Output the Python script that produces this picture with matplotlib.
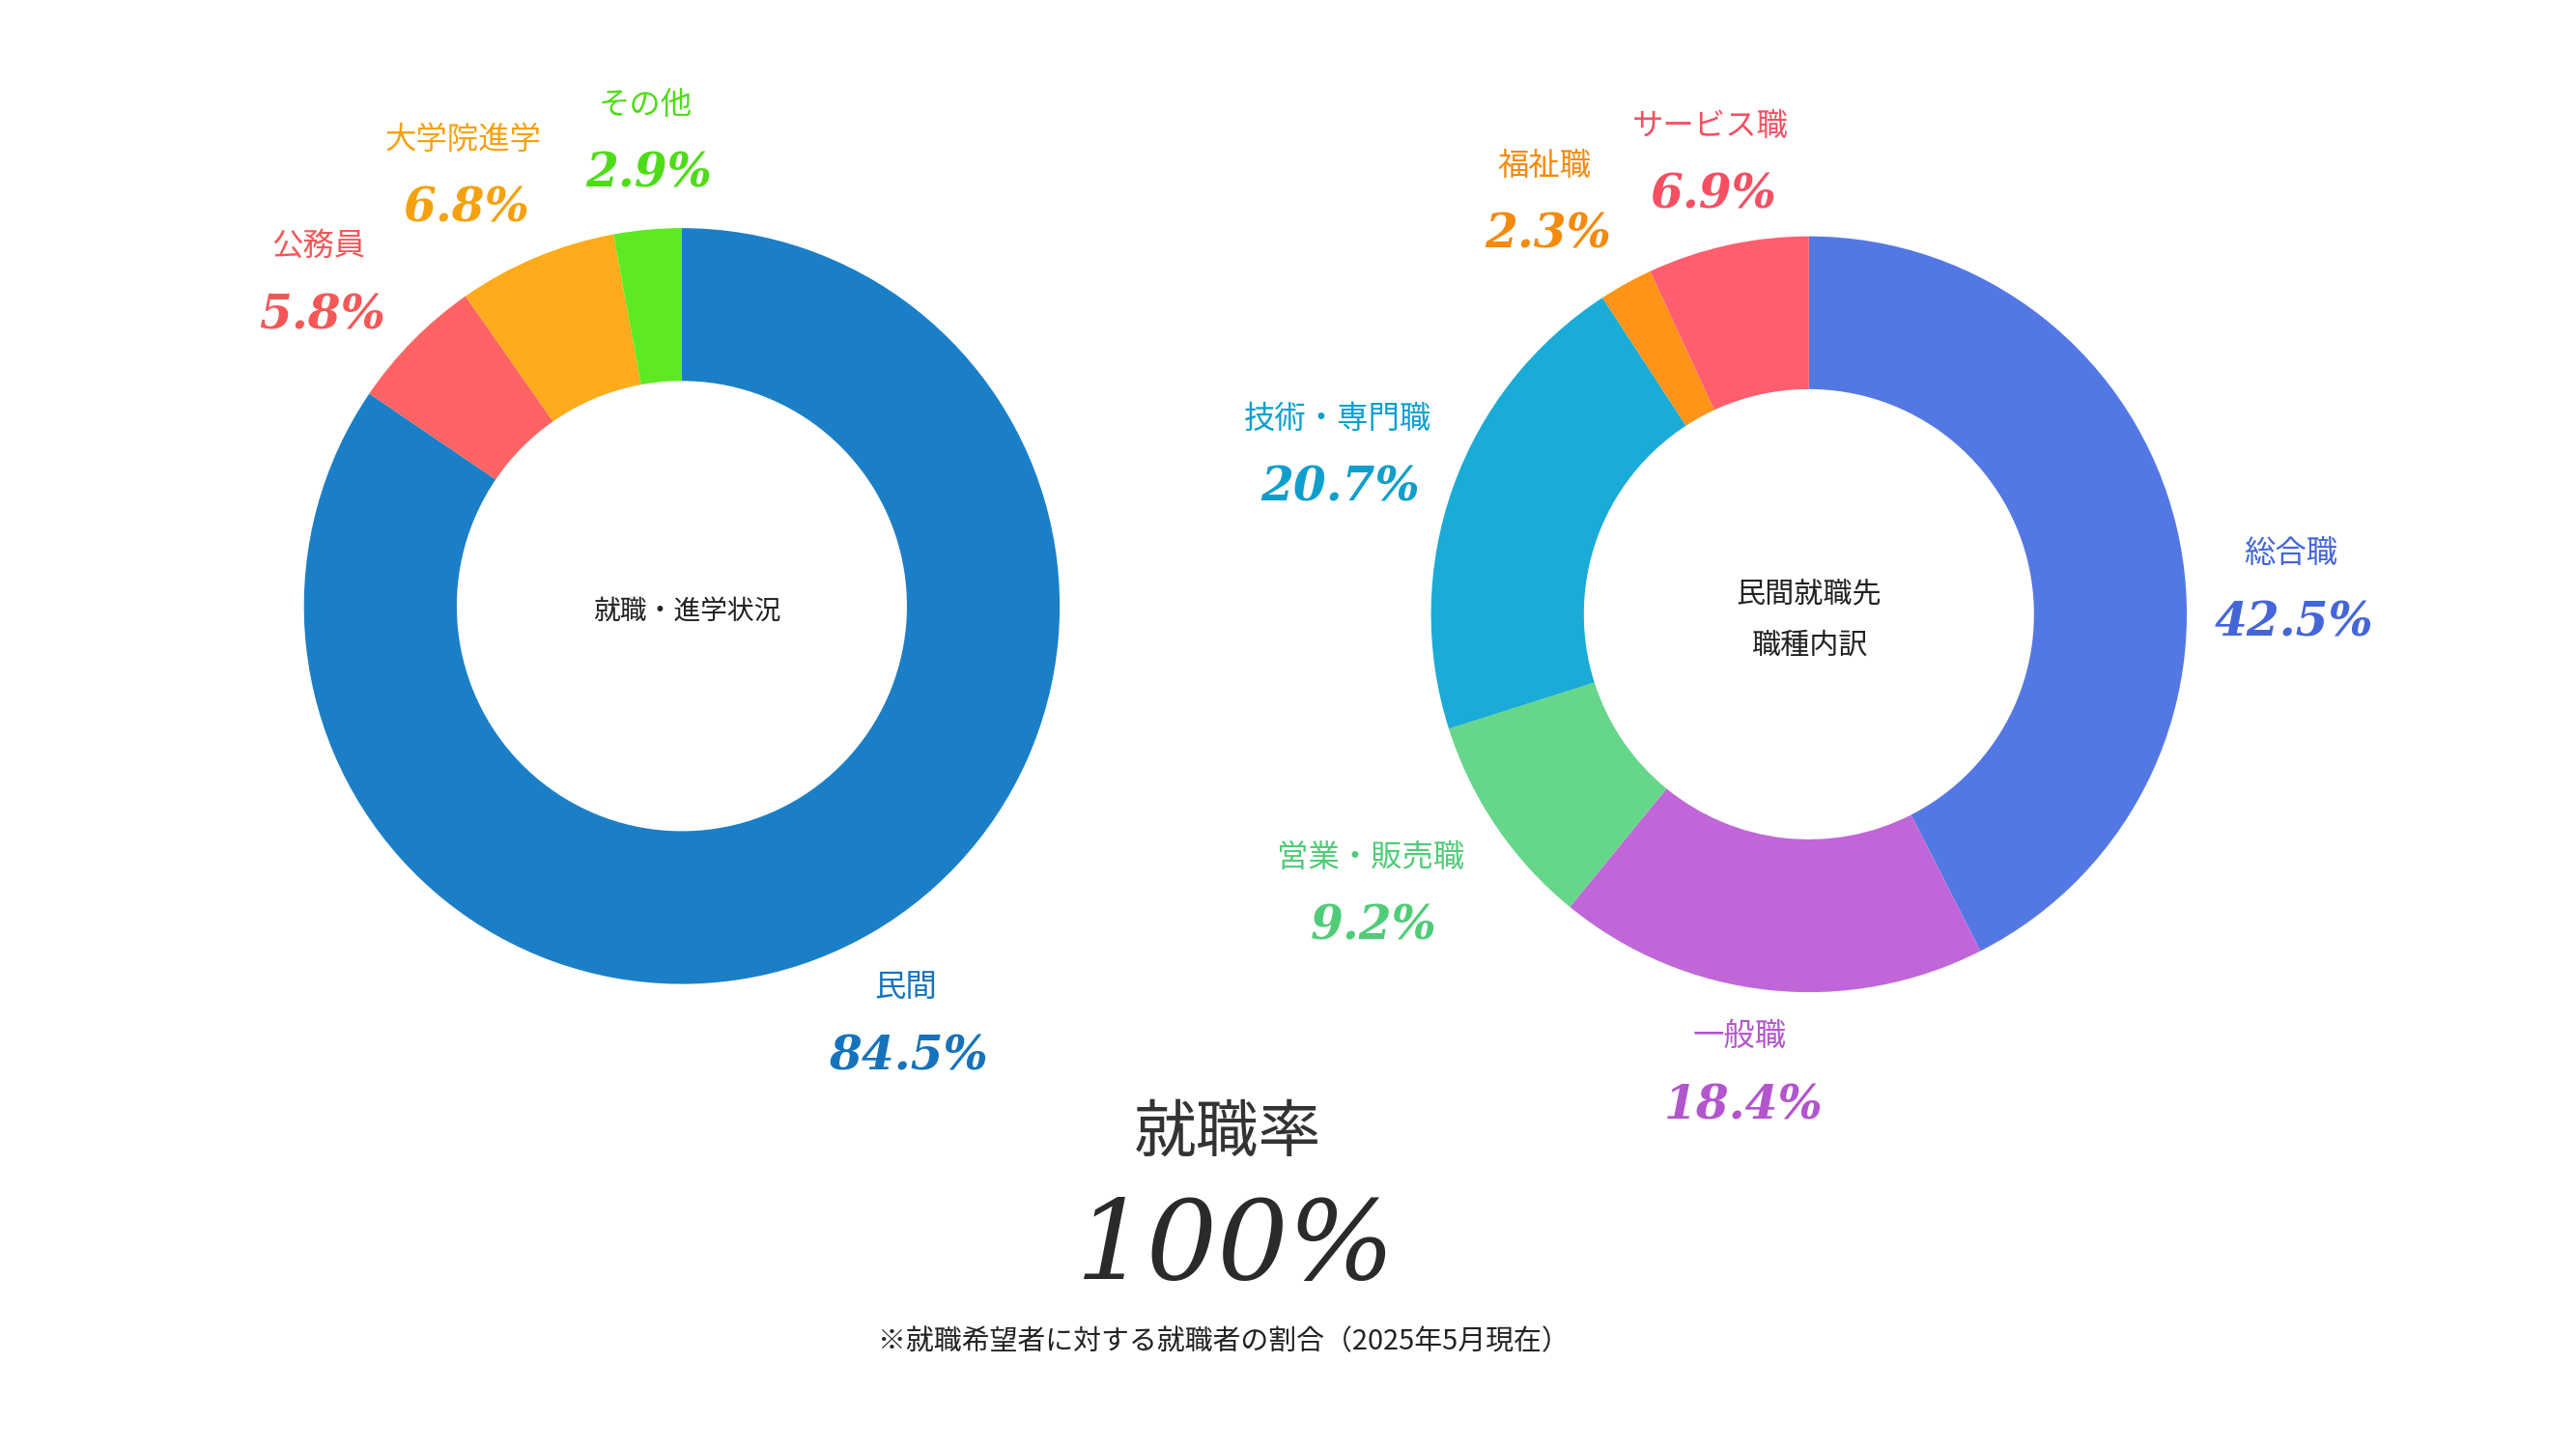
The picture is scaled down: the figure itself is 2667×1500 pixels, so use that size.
import matplotlib.pyplot as plt

JP = "Noto Sans CJK JP"
NUM = dict(family="DejaVu Serif", style="italic", weight="bold")

left_labels = ["民間", "公務員", "大学院進学", "その他"]
left_values = [84.5, 5.8, 6.8, 2.9]
left_colors = ["#1b7fc7", "#ff6363", "#ffab1c", "#5dea23"]
left_text_colors = ["#1673bb", "#f55757", "#f5a10f", "#4fdc18"]
left_pos = [(551, 601), (194, 150), (282, 85), (393, 64)]

right_labels = ["総合職", "一般職", "営業・販売職", "技術・専門職", "福祉職", "サービス職"]
right_values = [42.5, 18.4, 9.2, 20.7, 2.3, 6.9]
right_colors = ["#5378e3", "#c066d8", "#66d68a", "#1aabd6", "#ff9419", "#ff5e6e"]
right_text_colors = ["#4466d8", "#b355cc", "#50cc78", "#0f9fcc", "#f58a0c", "#f55062"]
right_pos = [(1394, 337), (1059, 631), (834, 522), (814, 255), (940, 101), (1041, 77)]

W, H = 1568, 882

fig = plt.figure(figsize=(16, 9), dpi=166.7)
ax = fig.add_axes([0, 0, 1, 1])
ax.set_xlim(0, W)
ax.set_ylim(0, H)
ax.set_aspect("equal")
ax.axis("off")


def donut(values, colors, cx, cy):
    ax.pie(values, colors=colors, startangle=90, counterclock=False,
           center=(cx, H - cy), radius=230,
           wedgeprops=dict(width=93, linewidth=0))


donut(left_values, left_colors, 415, 369)
donut(right_values, right_colors, 1101, 374)
ax.set_xlim(0, W)
ax.set_ylim(0, H)


def labels(names, values, tcolors, pos):
    for n, v, c, (x, y) in zip(names, values, tcolors, pos):
        ax.text(x, H - y, n, color=c, fontsize=14, family=JP, ha="center", va="center")
        ax.text(x + 2, H - y - 42, f"{v}%", color=c, fontsize=21, ha="center", va="center", **NUM)


labels(left_labels, left_values, left_text_colors, left_pos)
labels(right_labels, right_values, right_text_colors, right_pos)

ax.text(418, H - 372, "就職・進学状況", fontsize=12, family=JP, ha="center", va="center", color="#222")
ax.text(1101, H - 362, "民間就職先", fontsize=13, family=JP, ha="center", va="center", color="#222")
ax.text(1101, H - 393, "職種内訳", fontsize=13, family=JP, ha="center", va="center", color="#222")

ax.text(747, H - 690, "就職率", fontsize=28, family=JP, ha="center", va="center", color="#333")
ax.text(752, H - 760, "100%", fontsize=50, ha="center", va="center", color="#2a2a2a",
        family="DejaVu Serif", style="italic")
ax.text(745, H - 817, "※就職希望者に対する就職者の割合（2025年5月現在）", fontsize=12.5,
        family=JP, ha="center", va="center", color="#222")

fig.savefig("out.png", dpi=166.7)
